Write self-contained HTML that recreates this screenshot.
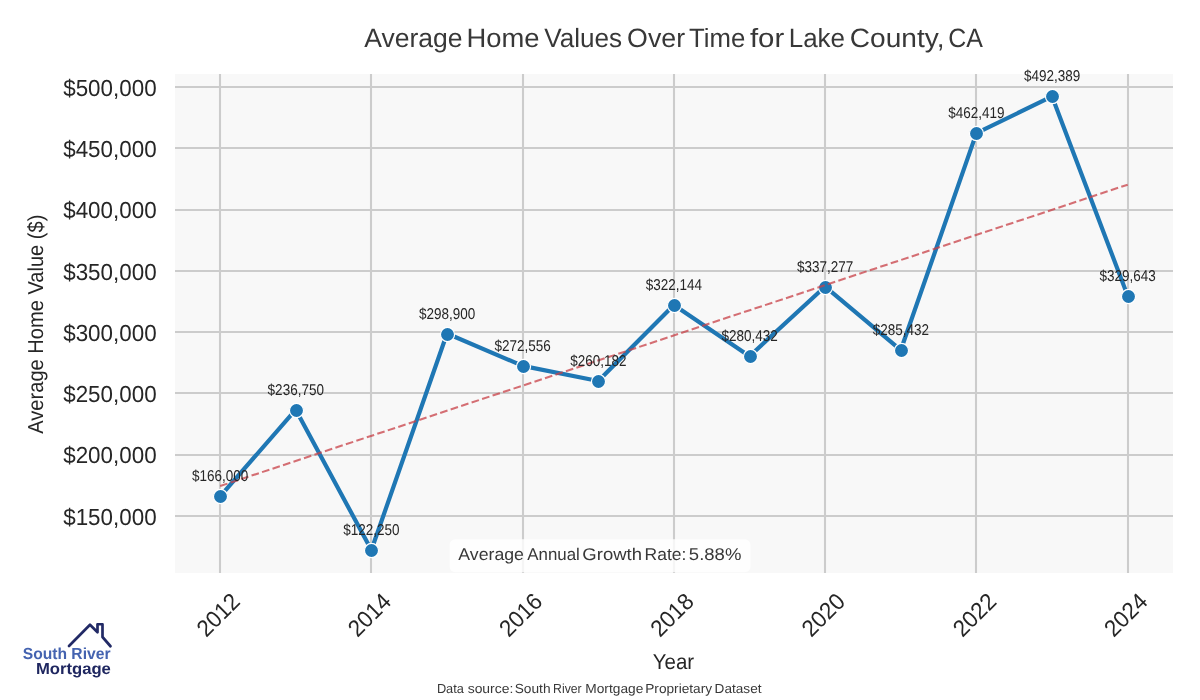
<!DOCTYPE html>
<html><head><meta charset="utf-8"><title>Average Home Values Over Time for Lake County, CA</title>
<style>html,body{margin:0;padding:0;background:#fff;} svg{display:block;font-family:"Liberation Sans", Arial, sans-serif;text-rendering:geometricPrecision;}</style></head>
<body><svg width="1200" height="700" viewBox="0 0 1200 700">
<rect x="0" y="0" width="1200" height="700" fill="#ffffff"/>
<rect x="175" y="74" width="998" height="499" fill="#f8f8f8"/>
<line x1="220" y1="74" x2="220" y2="573" stroke="#cccccc" stroke-width="2.08"/>
<line x1="371" y1="74" x2="371" y2="573" stroke="#cccccc" stroke-width="2.08"/>
<line x1="523" y1="74" x2="523" y2="573" stroke="#cccccc" stroke-width="2.08"/>
<line x1="674" y1="74" x2="674" y2="573" stroke="#cccccc" stroke-width="2.08"/>
<line x1="825" y1="74" x2="825" y2="573" stroke="#cccccc" stroke-width="2.08"/>
<line x1="976" y1="74" x2="976" y2="573" stroke="#cccccc" stroke-width="2.08"/>
<line x1="1128" y1="74" x2="1128" y2="573" stroke="#cccccc" stroke-width="2.08"/>
<line x1="175" y1="516" x2="1173" y2="516" stroke="#cccccc" stroke-width="2.08"/>
<line x1="175" y1="455" x2="1173" y2="455" stroke="#cccccc" stroke-width="2.08"/>
<line x1="175" y1="393" x2="1173" y2="393" stroke="#cccccc" stroke-width="2.08"/>
<line x1="175" y1="332" x2="1173" y2="332" stroke="#cccccc" stroke-width="2.08"/>
<line x1="175" y1="271" x2="1173" y2="271" stroke="#cccccc" stroke-width="2.08"/>
<line x1="175" y1="210" x2="1173" y2="210" stroke="#cccccc" stroke-width="2.08"/>
<line x1="175" y1="148" x2="1173" y2="148" stroke="#cccccc" stroke-width="2.08"/>
<line x1="175" y1="87" x2="1173" y2="87" stroke="#cccccc" stroke-width="2.08"/>
<text x="0" y="0" transform="translate(156.6 524.60) scale(1 1.04)" text-anchor="end" font-size="22.4" fill="#262626">$150,000</text>
<text x="0" y="0" transform="translate(156.6 463.33) scale(1 1.04)" text-anchor="end" font-size="22.4" fill="#262626">$200,000</text>
<text x="0" y="0" transform="translate(156.6 402.07) scale(1 1.04)" text-anchor="end" font-size="22.4" fill="#262626">$250,000</text>
<text x="0" y="0" transform="translate(156.6 340.80) scale(1 1.04)" text-anchor="end" font-size="22.4" fill="#262626">$300,000</text>
<text x="0" y="0" transform="translate(156.6 279.53) scale(1 1.04)" text-anchor="end" font-size="22.4" fill="#262626">$350,000</text>
<text x="0" y="0" transform="translate(156.6 218.26) scale(1 1.04)" text-anchor="end" font-size="22.4" fill="#262626">$400,000</text>
<text x="0" y="0" transform="translate(156.6 156.99) scale(1 1.04)" text-anchor="end" font-size="22.4" fill="#262626">$450,000</text>
<text x="0" y="0" transform="translate(156.6 95.72) scale(1 1.04)" text-anchor="end" font-size="22.4" fill="#262626">$500,000</text>
<text x="0" y="7.70" text-anchor="middle" font-size="22.4" fill="#262626" transform="translate(218.13 614.80) rotate(-45) scale(1 1.04)">2012</text>
<text x="0" y="7.70" text-anchor="middle" font-size="22.4" fill="#262626" transform="translate(369.39 614.80) rotate(-45) scale(1 1.04)">2014</text>
<text x="0" y="7.70" text-anchor="middle" font-size="22.4" fill="#262626" transform="translate(520.65 614.80) rotate(-45) scale(1 1.04)">2016</text>
<text x="0" y="7.70" text-anchor="middle" font-size="22.4" fill="#262626" transform="translate(671.91 614.80) rotate(-45) scale(1 1.04)">2018</text>
<text x="0" y="7.70" text-anchor="middle" font-size="22.4" fill="#262626" transform="translate(823.17 614.80) rotate(-45) scale(1 1.04)">2020</text>
<text x="0" y="7.70" text-anchor="middle" font-size="22.4" fill="#262626" transform="translate(974.43 614.80) rotate(-45) scale(1 1.04)">2022</text>
<text x="0" y="7.70" text-anchor="middle" font-size="22.4" fill="#262626" transform="translate(1125.69 614.80) rotate(-45) scale(1 1.04)">2024</text>
<polyline points="220.13,496.40 295.76,409.70 371.39,550.01 447.02,333.54 522.65,365.83 598.28,380.99 673.91,305.06 749.54,356.17 825.17,286.52 900.80,350.05 976.43,133.17 1052.06,96.45 1127.69,295.87" fill="none" stroke="#1f77b4" stroke-width="4.2" stroke-linejoin="round" stroke-linecap="round"/>
<circle cx="220.5" cy="496.5" r="7.05" fill="#1f77b4" stroke="#ffffff" stroke-width="1.2"/>
<circle cx="296.5" cy="410.5" r="7.05" fill="#1f77b4" stroke="#ffffff" stroke-width="1.2"/>
<circle cx="371.5" cy="550.5" r="7.05" fill="#1f77b4" stroke="#ffffff" stroke-width="1.2"/>
<circle cx="447.5" cy="334.5" r="7.05" fill="#1f77b4" stroke="#ffffff" stroke-width="1.2"/>
<circle cx="523.5" cy="366.5" r="7.05" fill="#1f77b4" stroke="#ffffff" stroke-width="1.2"/>
<circle cx="598.5" cy="381.5" r="7.05" fill="#1f77b4" stroke="#ffffff" stroke-width="1.2"/>
<circle cx="674.5" cy="305.5" r="7.05" fill="#1f77b4" stroke="#ffffff" stroke-width="1.2"/>
<circle cx="750.5" cy="356.5" r="7.05" fill="#1f77b4" stroke="#ffffff" stroke-width="1.2"/>
<circle cx="825.5" cy="287.5" r="7.05" fill="#1f77b4" stroke="#ffffff" stroke-width="1.2"/>
<circle cx="901.5" cy="350.5" r="7.05" fill="#1f77b4" stroke="#ffffff" stroke-width="1.2"/>
<circle cx="976.5" cy="133.5" r="7.05" fill="#1f77b4" stroke="#ffffff" stroke-width="1.2"/>
<circle cx="1052.5" cy="96.5" r="7.05" fill="#1f77b4" stroke="#ffffff" stroke-width="1.2"/>
<circle cx="1128.5" cy="296.5" r="7.05" fill="#1f77b4" stroke="#ffffff" stroke-width="1.2"/>
<line x1="220.13" y1="486.05" x2="1127.69" y2="184.68" stroke="#c84047" stroke-opacity="0.75" stroke-width="2.08" stroke-dasharray="7.708 3.333"/>
<text x="0" y="0" transform="translate(220.13 481.30)" text-anchor="middle" font-size="15.6" textLength="56.3" lengthAdjust="spacingAndGlyphs" fill="#262626">$166,000</text>
<text x="0" y="0" transform="translate(295.76 394.60)" text-anchor="middle" font-size="15.6" textLength="56.3" lengthAdjust="spacingAndGlyphs" fill="#262626">$236,750</text>
<text x="0" y="0" transform="translate(371.39 534.91)" text-anchor="middle" font-size="15.6" textLength="56.3" lengthAdjust="spacingAndGlyphs" fill="#262626">$122,250</text>
<text x="0" y="0" transform="translate(447.02 319.44)" text-anchor="middle" font-size="15.6" textLength="56.3" lengthAdjust="spacingAndGlyphs" fill="#262626">$298,900</text>
<text x="0" y="0" transform="translate(522.65 350.73)" text-anchor="middle" font-size="15.6" textLength="56.3" lengthAdjust="spacingAndGlyphs" fill="#262626">$272,556</text>
<text x="0" y="0" transform="translate(598.28 365.89)" text-anchor="middle" font-size="15.6" textLength="56.3" lengthAdjust="spacingAndGlyphs" fill="#262626">$260,182</text>
<text x="0" y="0" transform="translate(673.91 289.96)" text-anchor="middle" font-size="15.6" textLength="56.3" lengthAdjust="spacingAndGlyphs" fill="#262626">$322,144</text>
<text x="0" y="0" transform="translate(749.54 341.07)" text-anchor="middle" font-size="15.6" textLength="56.3" lengthAdjust="spacingAndGlyphs" fill="#262626">$280,432</text>
<text x="0" y="0" transform="translate(825.17 272.42)" text-anchor="middle" font-size="15.6" textLength="56.3" lengthAdjust="spacingAndGlyphs" fill="#262626">$337,277</text>
<text x="0" y="0" transform="translate(900.80 334.95)" text-anchor="middle" font-size="15.6" textLength="56.3" lengthAdjust="spacingAndGlyphs" fill="#262626">$285,432</text>
<text x="0" y="0" transform="translate(976.43 118.07)" text-anchor="middle" font-size="15.6" textLength="56.3" lengthAdjust="spacingAndGlyphs" fill="#262626">$462,419</text>
<text x="0" y="0" transform="translate(1052.06 81.10)" text-anchor="middle" font-size="15.6" textLength="56.3" lengthAdjust="spacingAndGlyphs" fill="#262626">$492,389</text>
<text x="0" y="0" transform="translate(1127.69 280.77)" text-anchor="middle" font-size="15.6" textLength="56.3" lengthAdjust="spacingAndGlyphs" fill="#262626">$329,643</text>
<rect x="449.6" y="539.3" width="300.9" height="32.9" rx="5.5" ry="5.5" fill="#ffffff" fill-opacity="0.8"/>
<text x="458.30" y="559.80" font-size="17.0" textLength="65.63" lengthAdjust="spacingAndGlyphs" fill="#383838">Average</text>
<text x="527.30" y="559.80" font-size="17.0" textLength="52.56" lengthAdjust="spacingAndGlyphs" fill="#383838">Annual</text>
<text x="582.38" y="559.80" font-size="17.0" textLength="59.59" lengthAdjust="spacingAndGlyphs" fill="#383838">Growth</text>
<text x="644.60" y="559.80" font-size="17.0" textLength="41.76" lengthAdjust="spacingAndGlyphs" fill="#383838">Rate:</text>
<text x="688.86" y="559.80" font-size="17.0" textLength="52.50" lengthAdjust="spacingAndGlyphs" fill="#383838">5.88%</text>
<text x="364.20" y="46.80" font-size="26.4" textLength="98.29" lengthAdjust="spacingAndGlyphs" fill="#383838">Average</text>
<text x="466.56" y="46.80" font-size="26.4" textLength="73.04" lengthAdjust="spacingAndGlyphs" fill="#383838">Home</text>
<text x="544.27" y="46.80" font-size="26.4" textLength="77.86" lengthAdjust="spacingAndGlyphs" fill="#383838">Values</text>
<text x="627.10" y="46.80" font-size="26.4" textLength="57.96" lengthAdjust="spacingAndGlyphs" fill="#383838">Over</text>
<text x="689.08" y="46.80" font-size="26.4" textLength="56.28" lengthAdjust="spacingAndGlyphs" fill="#383838">Time</text>
<text x="749.96" y="46.80" font-size="26.4" textLength="34.29" lengthAdjust="spacingAndGlyphs" fill="#383838">for</text>
<text x="788.72" y="46.80" font-size="26.4" textLength="56.29" lengthAdjust="spacingAndGlyphs" fill="#383838">Lake</text>
<text x="849.85" y="46.80" font-size="26.4" textLength="94.70" lengthAdjust="spacingAndGlyphs" fill="#383838">County,</text>
<text x="948.35" y="46.80" font-size="26.4" textLength="34.65" lengthAdjust="spacingAndGlyphs" fill="#383838">CA</text>
<text x="652.79" y="669.00" font-size="21.6" textLength="41.33" lengthAdjust="spacingAndGlyphs" fill="#262626">Year</text>
<text x="0" y="0" font-size="21.6" fill="#262626" textLength="219.07" lengthAdjust="spacingAndGlyphs" transform="translate(42.9 433.70) rotate(-90)">Average Home Value ($)</text>
<text x="436.88" y="692.60" font-size="13.2" textLength="27.05" lengthAdjust="spacingAndGlyphs" fill="#383838">Data</text>
<text x="467.68" y="692.60" font-size="13.2" textLength="45.63" lengthAdjust="spacingAndGlyphs" fill="#383838">source:</text>
<text x="514.68" y="692.60" font-size="13.2" textLength="35.86" lengthAdjust="spacingAndGlyphs" fill="#383838">South</text>
<text x="553.12" y="692.60" font-size="13.2" textLength="28.50" lengthAdjust="spacingAndGlyphs" fill="#383838">River</text>
<text x="585.30" y="692.60" font-size="13.2" textLength="58.01" lengthAdjust="spacingAndGlyphs" fill="#383838">Mortgage</text>
<text x="645.21" y="692.60" font-size="13.2" textLength="66.91" lengthAdjust="spacingAndGlyphs" fill="#383838">Proprietary</text>
<text x="714.61" y="692.60" font-size="13.2" textLength="46.87" lengthAdjust="spacingAndGlyphs" fill="#383838">Dataset</text>
<path d="M69,646 L90,624.75 L97.5,632.25 L97.5,624.25 L102.5,624.25 L102.5,637 L110.5,646.25" fill="none" stroke="#222a66" stroke-width="2.7" stroke-linejoin="round" stroke-linecap="round"/>
<text x="22.73" y="658.60" font-size="16" font-weight="bold" textLength="87.76" lengthAdjust="spacingAndGlyphs" fill="#4463b0">South River</text>
<text x="35.92" y="674.30" font-size="16" font-weight="bold" textLength="74.97" lengthAdjust="spacingAndGlyphs" fill="#1f2760">Mortgage</text>
</svg></body></html>
